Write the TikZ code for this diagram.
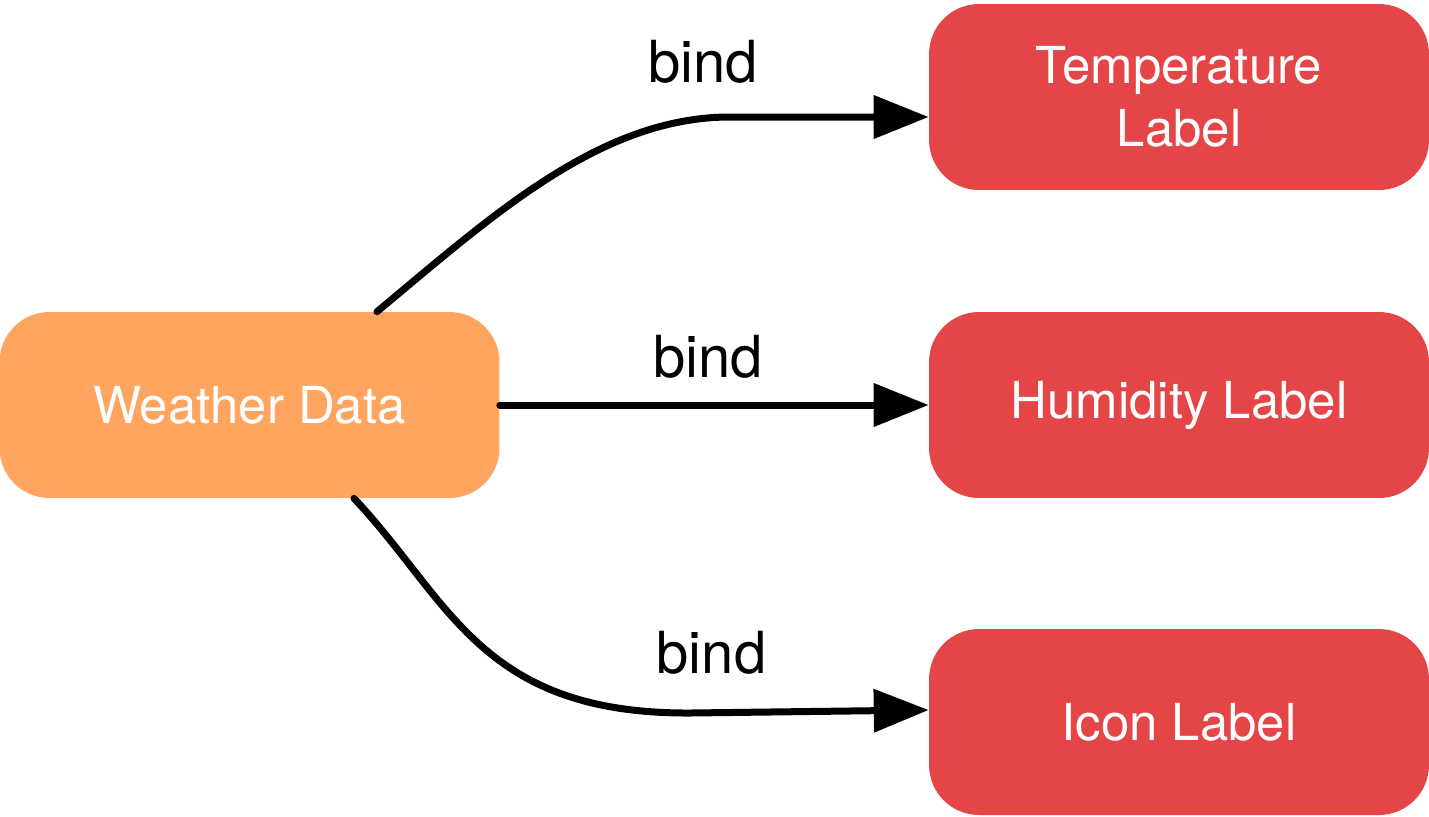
\documentclass[tikz,border=0pt]{standalone}
\usepackage{fontspec}
\setmainfont{TeX Gyre Heros}
\usepackage{xcolor}
\definecolor{dataorange}{RGB}{255,165,96}
\definecolor{labelred}{RGB}{228,70,72}
\usetikzlibrary{arrows.meta}

\tikzset{
  box/.style={rounded corners=1cm, minimum width=10cm, minimum height=3.72cm,
    align=center, text=white, font=\fontsize{29}{36}\selectfont},
  bindarrow/.style={line width=0.14cm, line cap=round,
    -{Triangle[length=1.1cm,width=0.84cm]}},
  bindtext/.style={anchor=base, font=\fontsize{33}{40}\selectfont}
}

\begin{document}
\begin{tikzpicture}[x=0.02cm, y=-0.02cm]
  % Frame of the picture
  \useasboundingbox (0,0) rectangle (1429,816);

  % Source node
  \node[box, fill=dataorange] (weather) at (249.5,405) {Weather Data};

  % Target labels
  \node[box, fill=labelred] (temp) at (1179,97) {Temperature\\Label};
  \node[box, fill=labelred] (humid) at (1179,405) {Humidity Label};
  \node[box, fill=labelred] (icon) at (1179,722) {Icon Label};

  % Bindings
  \draw[bindarrow] ([xshift=2.55cm]weather.north)
    .. controls (492,216) and (600,117) .. (730,117)
    -- ([yshift=-0.4cm]temp.west);
  \draw[bindarrow] (weather.east) -- (humid.west);
  \draw[bindarrow] ([xshift=2.09cm]weather.south)
    .. controls (450,600) and (480,714) .. (690,713)
    -- ([yshift=0.24cm]icon.west);

  % Arrow texts
  \node[bindtext] (bindtemp) at (703,82) {bind};
  \node[bindtext] (bindhumid) at (708,377) {bind};
  \node[bindtext] (bindicon) at (711.5,673) {bind};
\end{tikzpicture}
\end{document}
